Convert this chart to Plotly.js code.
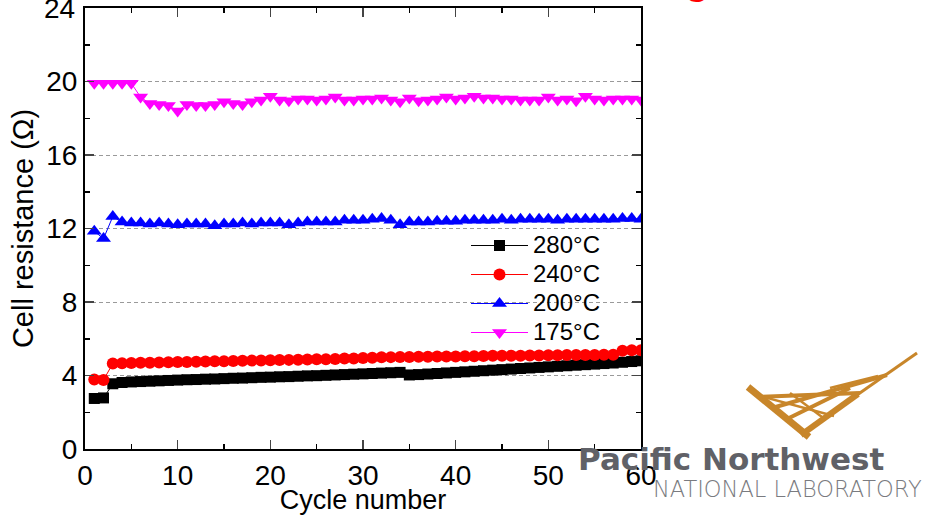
<!DOCTYPE html>
<html>
<head>
<meta charset="utf-8">
<script src="https://cdn.plot.ly/plotly-3.0.1.min.js"></script>
<style>
html,body{margin:0;padding:0;background:#fff;}
#chart{width:932px;height:515px;}
</style>
</head>
<body>
<div id="chart"></div>
<script>
const cycles = Array.from({length: 60}, (_, i) => i + 1);

const r280 = [2.75,2.78,3.55,3.62,3.65,3.67,3.69,3.71,3.73,3.75,
              3.77,3.78,3.80,3.81,3.83,3.85,3.86,3.88,3.90,3.91,
              3.93,3.94,3.96,3.98,3.99,4.01,4.03,4.05,4.07,4.09,
              4.11,4.13,4.15,4.17,4.03,4.05,4.08,4.11,4.14,4.17,
              4.20,4.23,4.26,4.29,4.32,4.35,4.38,4.41,4.44,4.47,
              4.50,4.53,4.56,4.59,4.62,4.65,4.68,4.72,4.76,4.80];

const r240 = [3.78,3.76,4.65,4.67,4.68,4.69,4.70,4.71,4.72,4.73,
              4.74,4.75,4.76,4.77,4.78,4.79,4.80,4.81,4.82,4.83,
              4.84,4.85,4.86,4.87,4.88,4.89,4.90,4.92,4.93,4.95,
              4.97,4.99,5.00,5.01,5.01,5.02,5.02,5.03,5.03,5.04,
              5.05,5.05,5.06,5.07,5.07,5.08,5.08,5.09,5.09,5.10,
              5.10,5.11,5.11,5.12,5.12,5.13,5.13,5.35,5.37,5.38];

const r200 = [11.85,11.45,12.65,12.35,12.30,12.30,12.25,12.30,12.25,12.20,
              12.25,12.25,12.25,12.15,12.25,12.25,12.30,12.25,12.30,12.30,
              12.30,12.20,12.30,12.35,12.35,12.35,12.35,12.45,12.45,12.45,
              12.50,12.55,12.45,12.20,12.35,12.35,12.35,12.40,12.40,12.40,
              12.45,12.45,12.45,12.45,12.50,12.45,12.50,12.50,12.50,12.50,
              12.45,12.50,12.50,12.50,12.50,12.50,12.50,12.55,12.55,12.50];

const r175 = [19.90,19.90,19.90,19.90,19.90,19.15,18.80,18.75,18.70,18.40,
              18.75,18.70,18.70,18.75,18.90,18.80,18.75,18.90,19.00,19.20,
              19.00,18.95,19.05,19.05,19.00,19.05,19.15,19.00,19.00,19.05,
              19.05,19.10,19.00,18.90,19.10,18.95,19.00,19.05,19.15,19.05,
              19.10,19.20,19.10,19.10,19.05,19.05,19.00,19.00,19.00,19.15,
              19.00,19.05,18.95,19.20,19.05,19.00,19.05,19.05,19.05,19.00];

const seriesNames = ['280°C','240°C','200°C','175°C'];
const seriesData = [r280, r240, r200, r175];
const seriesColors = ['#000000','#ff0000','#0000ff','#ff00ff'];
const seriesSymbols = ['square','circle','triangle-up','triangle-down'];
const seriesSizes = [11,12,13,13];

const yTickVals = [0,4,8,12,16,20,24];
const xTickVals = [0,10,20,30,40,50,60];

const traces = seriesData.map((d, i) => ({
  x: cycles, y: d, type: 'scatter', mode: 'lines+markers',
  name: '<span style="font-size:24px">' + seriesNames[i] + '</span>',
  line: {color: seriesColors[i], width: 1},
  marker: {symbol: seriesSymbols[i], size: seriesSizes[i], color: seriesColors[i]}
}));

// pixel -> paper helpers for decoration (plot area 85..641 x, 8..449 y)
const L = 85, R = 641, T = 8, B = 449;
const px = x => (x - L) / (R - L);
const py = y => (B - y) / (B - T);

const gold = '#c8862a';
const logoLines = [
  [748,387,809,437,7],
  [801,435,858,394,6],
  [857,395,917,353,3],
  [757,397,860,393,4],
  [772,408,887,375,4],
  [785,420,850,388,4],
  [760,396,834,416,2.5],
  [790,393,826,420,2.5],
  [830,388,878,376,2.5]
];
const shapes = logoLines.map(l => ({
  type: 'line', xref: 'paper', yref: 'paper',
  x0: px(l[0]), y0: py(l[1]), x1: px(l[2]), y1: py(l[3]),
  line: {color: gold, width: l[4]}, layer: 'above'
}));
// white legend panel hiding the grid lines (drawn beneath traces)
shapes.push({type: 'rect', xref: 'paper', yref: 'paper', layer: 'between',
  x0: px(463), x1: px(621), y0: py(225), y1: py(345),
  fillcolor: '#ffffff', line: {width: 0}});

const layout = {
  width: 932, height: 515,
  margin: {l: L, r: 932 - R, t: T, b: 515 - B},
  paper_bgcolor: '#ffffff', plot_bgcolor: '#ffffff',
  font: {family: 'Arial, "Liberation Sans", sans-serif', color: '#000'},
  showlegend: true,
  legend: {
    x: px(466), y: py(226), xanchor: 'left', yanchor: 'top',
    bgcolor: 'rgba(0,0,0,0)', borderwidth: 0,
    font: {size: 20, color: '#000'}, itemwidth: 57, tracegroupgap: 0
  },
  xaxis: {
    range: [0, 60], tickvals: xTickVals, ticks: 'inside', ticklen: 9, tickwidth: 1.5,
    showline: true, linewidth: 2, linecolor: '#000', mirror: 'ticks',
    showgrid: false, zeroline: false,
    tickfont: {size: 28, color: '#000'},
    minor: {ticks: 'inside', dtick: 5, ticklen: 5, tickwidth: 1.5, tickcolor: '#000', showgrid: false},
    title: {text: 'Cycle number', font: {size: 27, color: '#000'}, standoff: 2}
  },
  yaxis: {
    range: [0, 24], tickvals: yTickVals, ticks: 'inside', ticklen: 9, tickwidth: 1.5,
    showline: true, linewidth: 2, linecolor: '#000', mirror: 'ticks',
    showgrid: true, gridcolor: '#9a9a9a', gridwidth: 1, griddash: '4px,3px',
    zeroline: false,
    tickfont: {size: 28, color: '#000'},
    minor: {ticks: 'inside', dtick: 2, ticklen: 5, tickwidth: 1.5, tickcolor: '#000', showgrid: false},
    title: {text: 'Cell resistance (Ω)', font: {size: 29, color: '#000'}, standoff: 4}
  },
  shapes: shapes,
  annotations: [
    {xref: 'paper', yref: 'paper', x: 0, y: 1, xanchor: 'right', yanchor: 'middle', xshift: -8,
     text: '24', showarrow: false, font: {size: 28, color: '#000'}},
    {xref: 'paper', yref: 'paper', x: px(697), y: py(-20), xanchor: 'center', yanchor: 'middle',
     text: 'g', showarrow: false, font: {size: 40, weight: 'bold', color: '#ff0000'}},
    {xref: 'paper', yref: 'paper', x: px(576), y: py(459), xanchor: 'left', yanchor: 'middle',
     text: 'Pacific Northwest', showarrow: false,
     font: {family: '"DejaVu Sans", Arial, sans-serif', size: 31, weight: 'bold', color: '#606167'}},
    {xref: 'paper', yref: 'paper', x: px(651), y: py(489), xanchor: 'left', yanchor: 'middle',
     text: 'NATIONAL LABORATORY', showarrow: false,
     font: {family: '"DejaVu Sans", Arial, sans-serif', size: 22.5, weight: 300, color: '#7a7b80'}}
  ]
};

Plotly.newPlot('chart', traces, layout, {displayModeBar: false, staticPlot: true});
</script>
</body>
</html>
